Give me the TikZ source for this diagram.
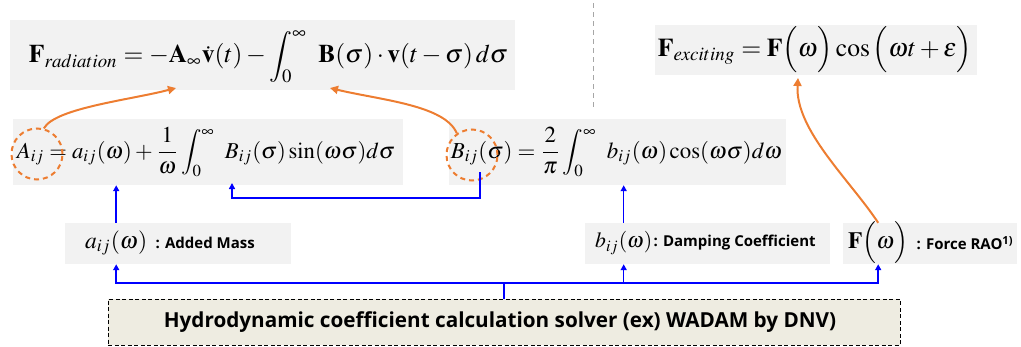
\documentclass[tikz,border=0pt]{standalone}
\usepackage{mathptmx}
\usepackage[no-math]{fontspec}
\newfontfamily\lblfont{Open Sans}[BoldFont={Open Sans Bold}]
\usepackage{graphicx}
\usetikzlibrary{arrows.meta}
\definecolor{boxgray}{HTML}{F2F2F2}
\definecolor{tanfill}{HTML}{EEECE1}
\definecolor{org}{HTML}{ED7D31}
\definecolor{dgray}{HTML}{A6A6A6}
\tikzset{
  gbox/.style={fill=boxgray, draw=none, inner sep=0pt},
  fnode/.style={inner sep=0pt},
  ocirc/.style={circle, draw=org, line width=2pt, dash pattern=on 5pt off 4pt, minimum size=51pt, inner sep=0pt},
  bline/.style={draw=blue, line width=1.5pt},
  barrow/.style={bline, -{Triangle[width=6pt,length=6pt]}},
  oarrow/.style={draw=org, line width=2pt, -{Triangle[width=8pt,length=8pt]}},
  lbltext/.style={font=\lblfont\bfseries\fontsize{15}{17}\selectfont, inner sep=0pt},
  soltext/.style={font=\lblfont\bfseries\fontsize{20.7}{24}\selectfont, inner sep=0pt},
}
\begin{document}
\begin{tikzpicture}[x=1pt, y=-1pt]
\useasboundingbox (0,0) rectangle (1021,346);
% boxes
\node[gbox, minimum width=505pt, minimum height=70pt] (tlbox) at (262.5,55) {};
\node[gbox, minimum width=322pt, minimum height=50pt] (trbox) at (816,50) {};
\node[gbox, minimum width=390pt, minimum height=66pt] (lbox) at (208,152) {};
\node[gbox, minimum width=337pt, minimum height=66pt] (rbox) at (617.5,152) {};
\node[gbox, minimum width=226pt, minimum height=41pt] (abox) at (178,243.5) {};
\node[gbox, minimum width=245pt, minimum height=41pt] (bbox) at (707.5,243.5) {};
\node[gbox, minimum width=174pt, minimum height=41pt] (fbox) at (930,243.5) {};
\node[draw=black, fill=tanfill, line width=1pt, dash pattern=on 4pt off 2.5pt, minimum width=792pt, minimum height=46pt, inner sep=0pt] (solver) at (504,322) {};
% separator
\draw[dgray, line width=1pt, dash pattern=on 5pt off 4pt] (593,3) -- (593,110);
% formulas
\node[fnode] (frad) at (268.5,57) {\resizebox{479pt}{!}{$\displaystyle \mathbf{F}_{radiation} = -\mathbf{A}_{\infty}\dot{\mathbf{v}}(t) - \int_0^\infty\ \mathbf{B}(\sigma)\cdot\mathbf{v}(t-\sigma)\,d\sigma$}};
\node[fnode] (fexc) at (815,50) {\resizebox{314pt}{!}{$\mathbf{F}_{exciting} = \mathbf{F}\Big(\omega\Big)\cos\Big(\omega t+\epsilon\Big)$}};
\node[fnode] (faij) at (206,152) {\resizebox{378pt}{!}{$\displaystyle A_{ij} = a_{ij}(\omega) + \frac{1}{\omega}\int_0^\infty\ B_{ij}(\sigma)\sin(\omega\sigma)d\sigma$}};
\node[fnode] (fbij) at (616.5,152) {\resizebox{331pt}{!}{$\displaystyle B_{ij}(\sigma) = \frac{2}{\pi}\int_0^\infty\ b_{ij}(\omega)\cos(\omega\sigma)d\omega$}};
% row 3 labels
\node[fnode, anchor=west] (am) at (85,243) {\resizebox{62pt}{!}{$a_{ij}(\omega)$}};
\node[lbltext, anchor=west] (at) at ([xshift=8pt]am.east) {: Added Mass};
\node[fnode, anchor=west] (bm) at (595,243) {\resizebox{57pt}{!}{$b_{ij}(\omega)$}};
\node[lbltext, anchor=west] (bt) at ([xshift=1pt]bm.east) {: Damping Coefficient};
\node[fnode, anchor=west] (fm) at (848,243) {\resizebox{60pt}{!}{$\mathbf{F}\Big(\omega\Big)$}};
\node[lbltext, anchor=west] (ft) at ([xshift=8pt]fm.east) {: Force RAO\textsuperscript{1)}};
\node[soltext] (soltxt) at (500,322) {Hydrodynamic coefficient calculation solver (ex) WADAM by DNV)};
% circles
\node[ocirc] (ca) at (37,154) {};
\node[ocirc] (cb) at (472,155) {};
% named points
\coordinate (tA) at (176,88);
\coordinate (tB) at (330,88);
\coordinate (tF) at (798,78);
\coordinate (hub) at (504,283);
\coordinate (bsrc) at (480,172);
\coordinate (btgt) at (232,183);
% blue connectors
\draw[bline] (solver.north) -- (hub);
\draw[barrow] (hub) -| (abox.south -| am);
\draw[barrow] (hub) -| (bbox.south -| bm);
\draw[barrow] (hub) -| (fbox.south -| fm);
\draw[barrow] (abox.north -| am) -- (lbox.south -| am);
\draw[barrow] (bbox.north -| bm) -- (rbox.south -| bm);
\draw[barrow] (bsrc) -- ++(0,26) -| (btgt);
% orange connectors
\draw[oarrow] (ca.75) .. controls (55,108) and (130,100) .. (tA);
\draw[oarrow] (cb.125) .. controls (445,105) and (380,100) .. (tB);
\draw[oarrow] (fbox.north -| fm) .. controls (850,180) and (795,130) .. (tF);
\end{tikzpicture}
\end{document}
